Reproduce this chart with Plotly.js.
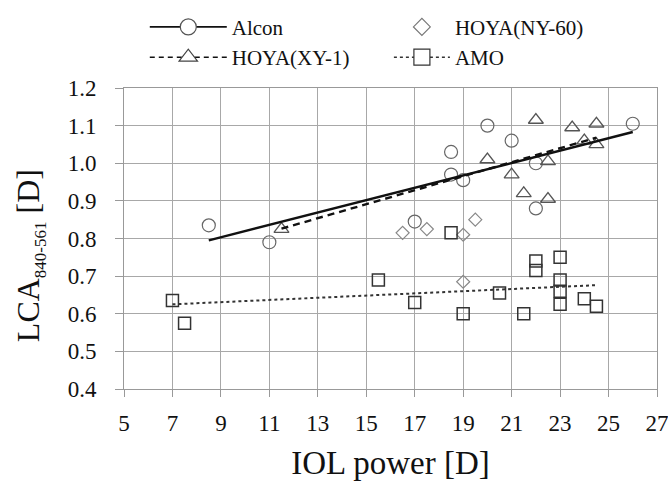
<!DOCTYPE html>
<html>
<head>
<meta charset="utf-8">
<script src="https://cdn.plot.ly/plotly-3.0.1.min.js"></script>
<style>html,body{margin:0;padding:0;background:#fff;}#chart{width:668px;height:481px;}</style>
</head>
<body>
<div id="chart"></div>
<script>
// Alcon
const alconX = [8.5, 11, 17, 18.5, 18.5, 19, 20, 21, 22, 22, 26];
const alconY = [0.835, 0.79, 0.845, 1.03, 0.97, 0.955, 1.10, 1.06, 1.00, 0.88, 1.105];
const alconFitX = [8.5, 26];
const alconFitY = [0.795, 1.083];
// HOYA(XY-1)
const xy1X = [11.5, 20, 21, 21.5, 22, 22.5, 22.5, 23.5, 24, 24.5, 24.5];
const xy1Y = [0.825, 1.01, 0.97, 0.92, 1.115, 1.005, 0.905, 1.095, 1.06, 1.105, 1.05];
const xy1FitX = [11.5, 24.5];
const xy1FitY = [0.826, 1.068];
// HOYA(NY-60)
const ny60X = [16.5, 17.5, 19, 19.5, 19];
const ny60Y = [0.815, 0.825, 0.81, 0.85, 0.685];
// AMO
const amoX = [7, 7.5, 15.5, 17, 18.5, 19, 20.5, 21.5, 22, 22, 23, 23, 23, 23, 24, 24.5];
const amoY = [0.635, 0.575, 0.69, 0.63, 0.815, 0.60, 0.655, 0.60, 0.74, 0.715, 0.75, 0.69, 0.66, 0.625, 0.64, 0.62];
const amoFitX = [7, 24.5];
const amoFitY = [0.625, 0.676];

const xTicks = [5, 7, 9, 11, 13, 15, 17, 19, 21, 23, 25, 27];
const yTicks = [0.4, 0.5, 0.6, 0.7, 0.8, 0.9, 1.0, 1.1, 1.2];

const serif = "Liberation Serif";

const traces = [
  // data points
  {x: alconX, y: alconY, type: 'scatter', mode: 'markers', showlegend: false,
   marker: {symbol: 'circle-open', size: 13, color: '#666', line: {width: 1.2, color: '#666'}}},
  {x: xy1X, y: xy1Y, type: 'scatter', mode: 'markers', showlegend: false,
   marker: {symbol: 'triangle-up-open', size: 13, color: '#555', line: {width: 1.3, color: '#555'}}},
  {x: ny60X, y: ny60Y, type: 'scatter', mode: 'markers', showlegend: false,
   marker: {symbol: 'diamond-open', size: 10, color: '#888', line: {width: 1.2, color: '#888'}}},
  {x: amoX, y: amoY, type: 'scatter', mode: 'markers', showlegend: false,
   marker: {symbol: 'square-open', size: 12, color: '#333', line: {width: 1.5, color: '#333'}}},
  // fit lines
  {x: alconFitX, y: alconFitY, type: 'scatter', mode: 'lines', showlegend: false,
   line: {color: '#111', width: 2.4}},
  {x: xy1FitX, y: xy1FitY, type: 'scatter', mode: 'lines', showlegend: false,
   line: {color: '#111', width: 2.4, dash: '7px,5px'}},
  {x: amoFitX, y: amoFitY, type: 'scatter', mode: 'lines', showlegend: false,
   line: {color: '#333', width: 2, dash: 'dot'}},
  // legend entries
  {x: [null], y: [null], type: 'scatter', mode: 'lines+markers', name: 'Alcon', legend: 'legend', legendgroup: 'a',
   line: {color: '#111', width: 1.6}, marker: {symbol: 'circle', size: 16, color: '#fff', line: {width: 1.2, color: '#555'}}},
  {x: [null], y: [null], type: 'scatter', mode: 'lines+markers', name: 'HOYA(XY-1)', legend: 'legend', legendgroup: 'b',
   line: {color: '#111', width: 1.6, dash: '5px,4px'}, marker: {symbol: 'triangle-up', size: 16, color: '#fff', line: {width: 1.2, color: '#444'}}},
  {x: [null], y: [null], type: 'scatter', mode: 'markers', name: 'HOYA(NY-60)', legend: 'legend2', legendgroup: 'c',
   marker: {symbol: 'diamond', size: 13, color: '#fff', line: {width: 1.2, color: '#777'}}},
  {x: [null], y: [null], type: 'scatter', mode: 'lines+markers', name: 'AMO', legend: 'legend2', legendgroup: 'd',
   line: {color: '#333', width: 1.4, dash: 'dot'}, marker: {symbol: 'square', size: 16, color: '#fff', line: {width: 1.2, color: '#333'}}}
];

const layout = {
  width: 668, height: 481,
  margin: {l: 124, r: 11, t: 88, b: 92, autoexpand: false},
  paper_bgcolor: '#fff', plot_bgcolor: '#fff',
  font: {family: serif, color: '#111', size: 22},
  showlegend: true,
  xaxis: {
    range: [5, 27], tickvals: xTicks, ticktext: xTicks.map(String),
    showgrid: true, gridcolor: '#a8a8a8', gridwidth: 1,
    showline: true, linecolor: '#999', linewidth: 1, mirror: true,
    ticks: 'outside', ticklen: 7, tickcolor: '#999', ticklabelstandoff: 6,
    ticklabeloverflow: 'allow', automargin: false,
    zeroline: false, tickfont: {family: serif, size: 23, color: '#111'},
    title: {text: 'IOL power [D]', font: {family: serif, size: 33, color: '#111'}, standoff: 17}
  },
  yaxis: {
    range: [0.4, 1.2], tickvals: yTicks, ticktext: yTicks.map(v => v.toFixed(1)),
    showgrid: true, gridcolor: '#a8a8a8', gridwidth: 1,
    showline: true, linecolor: '#999', linewidth: 1, mirror: true,
    ticks: 'outside', ticklen: 8, tickcolor: '#999', ticklabelstandoff: 14,
    ticklabeloverflow: 'allow', automargin: false,
    zeroline: false, tickfont: {family: serif, size: 23, color: '#111'}
  },
  annotations: [{
    text: 'LCA<sub><span style="font-size:17px">840-561</span></sub> [D]',
    xref: 'paper', yref: 'paper', x: -0.176, y: 0.442, xanchor: 'center', yanchor: 'middle',
    textangle: -90, showarrow: false, font: {family: serif, size: 32, color: '#111'}
  }],
  legend: {
    x: 0.039, y: 1.27, xanchor: 'left', yanchor: 'top', orientation: 'v',
    traceorder: 'grouped', tracegroupgap: 0, itemwidth: 77,
    font: {family: serif, size: 21, color: '#111'}, bgcolor: 'rgba(0,0,0,0)', borderwidth: 0
  },
  legend2: {
    x: 0.497, y: 1.27, xanchor: 'left', yanchor: 'top', orientation: 'v',
    traceorder: 'grouped', tracegroupgap: 0, itemwidth: 56,
    font: {family: serif, size: 21, color: '#111'}, bgcolor: 'rgba(0,0,0,0)', borderwidth: 0
  }
};

Plotly.newPlot('chart', traces, layout, {displayModeBar: false, staticPlot: true});
</script>
</body>
</html>
